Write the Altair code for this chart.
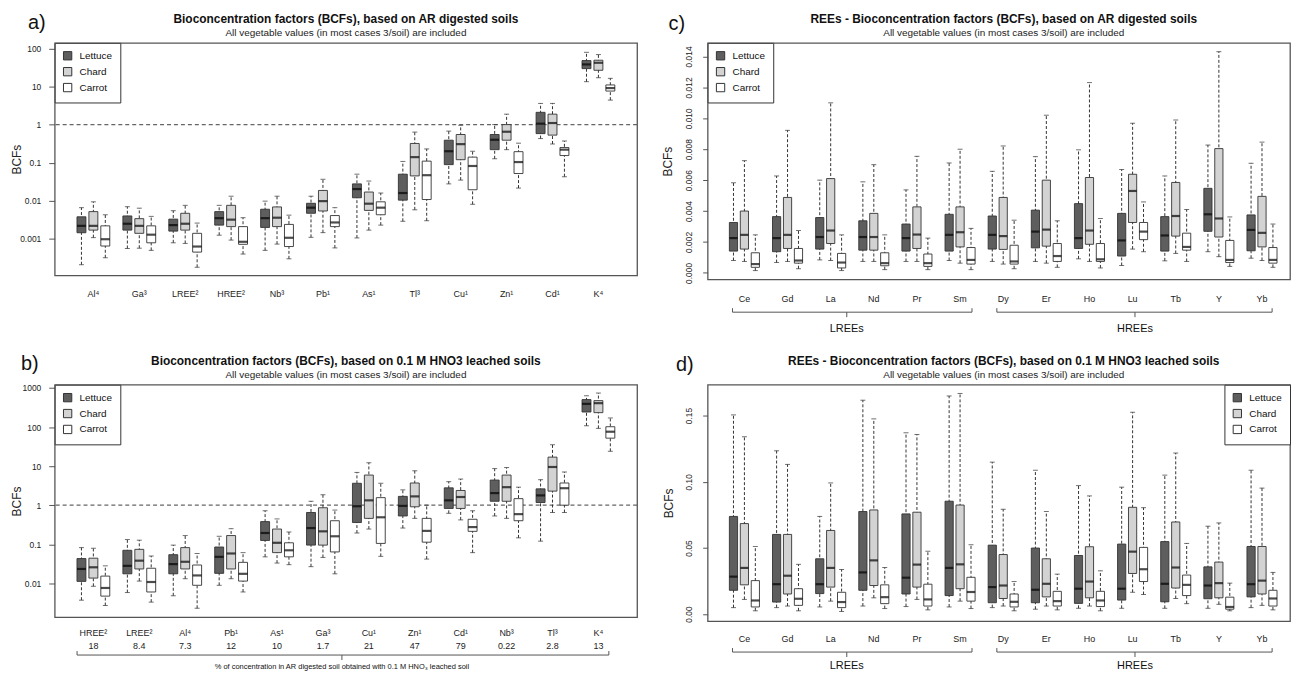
import altair as alt
import pandas as pd

SERIES = ["Lettuce", "Chard", "Carrot"]
FILLS = ["#5e5e5e", "#d3d3d3", "#ffffff"]
FONT = "Liberation Sans"

# ---------------- panel a: AR digested soils (log) ----------------
A_CATS = ["Al⁴", "Ga³", "LREE²", "HREE²", "Nb³", "Pb¹", "As¹", "Tl³", "Cu¹", "Zn¹", "Cd¹", "K⁴"]
# each entry: [lower whisker, Q1, median, Q3, upper whisker]
A_LETTUCE = [[0.00021, 0.00145, 0.0022, 0.0038, 0.0066], [0.00056, 0.0017, 0.0025, 0.0040, 0.0070],
             [0.00079, 0.0016, 0.0023, 0.0033, 0.0055], [0.00125, 0.0023, 0.0035, 0.0052, 0.0076],
             [0.0005, 0.0020, 0.0035, 0.0060, 0.0098], [0.0011, 0.0047, 0.0066, 0.0086, 0.0132],
             [0.00106, 0.012, 0.0203, 0.0278, 0.05], [0.0029, 0.0104, 0.016, 0.05, 0.108],
             [0.0278, 0.089, 0.2, 0.39, 0.675], [0.127, 0.22, 0.40, 0.55, 1.0],
             [0.43, 0.58, 1.06, 2.1, 3.6], [13.4, 29.5, 38, 48, 79]]
A_CHARD = [[0.00108, 0.0017, 0.0022, 0.0052, 0.0094], [0.00057, 0.0014, 0.0022, 0.0034, 0.0064],
           [0.00076, 0.0017, 0.0025, 0.0047, 0.0076], [0.00093, 0.0021, 0.0032, 0.0076, 0.0132],
           [0.00073, 0.0021, 0.0036, 0.0069, 0.0132], [0.00146, 0.0054, 0.0098, 0.0187, 0.0367],
           [0.0017, 0.0056, 0.0084, 0.017, 0.033], [0.0058, 0.045, 0.14, 0.32, 0.636],
           [0.035, 0.12, 0.307, 0.55, 0.96], [0.22, 0.39, 0.65, 1.0, 1.88],
           [0.31, 0.53, 1.1, 1.88, 3.6], [17, 26.7, 42, 49, 69]]
A_CARROT = [[0.00032, 0.00065, 0.00098, 0.0022, 0.0043], [0.0005, 0.00079, 0.00129, 0.0022, 0.0039],
            [0.00018, 0.00045, 0.00063, 0.0014, 0.0026], [0.0004, 0.00072, 0.00084, 0.0021, 0.0036],
            [0.0003, 0.00063, 0.00107, 0.0024, 0.0042], [0.00058, 0.0021, 0.0027, 0.0041, 0.0066],
            [0.0023, 0.0043, 0.0066, 0.0094, 0.016], [0.003, 0.0108, 0.047, 0.11, 0.23],
            [0.0081, 0.0195, 0.082, 0.14, 0.2], [0.0216, 0.052, 0.104, 0.195, 0.326],
            [0.043, 0.154, 0.22, 0.25, 0.37], [4.4, 7.6, 9.1, 11, 16.4]]

# ---------------- panel b: 0.1 M HNO3 leached soils (log) ----------------
B_CATS = ["HREE²", "LREE²", "Al⁴", "Pb¹", "As¹", "Ga³", "Cu¹", "Zn¹", "Cd¹", "Nb³", "Tl³", "K⁴"]
B_PCT = ["18", "8.4", "7.3", "12", "10", "1.7", "21", "47", "79", "0.22", "2.8", "13"]
B_LETTUCE = [[0.0037, 0.0112, 0.0233, 0.043, 0.082], [0.0058, 0.0175, 0.028, 0.07, 0.132],
             [0.0048, 0.0175, 0.031, 0.054, 0.095], [0.0089, 0.018, 0.0476, 0.085, 0.16],
             [0.0476, 0.125, 0.194, 0.38, 0.72], [0.0267, 0.095, 0.26, 0.65, 1.26],
             [0.194, 0.36, 0.94, 3.64, 6.9], [0.26, 0.53, 0.96, 1.68, 2.47],
             [0.62, 0.825, 1.33, 2.78, 4.0], [0.53, 1.26, 2.04, 4.4, 8.65],
             [0.12, 1.17, 1.78, 2.62, 4.5], [108, 243, 393, 505, 633]]
B_CHARD = [[0.0084, 0.0136, 0.0257, 0.044, 0.079], [0.0114, 0.0233, 0.038, 0.074, 0.127],
           [0.0131, 0.0233, 0.0356, 0.082, 0.167], [0.0131, 0.0233, 0.058, 0.167, 0.25],
           [0.033, 0.061, 0.109, 0.245, 0.445], [0.046, 0.095, 0.214, 0.86, 1.85],
           [0.245, 0.46, 1.33, 5.9, 12.2], [0.46, 0.91, 1.68, 3.7, 7.6],
           [0.42, 0.825, 1.62, 2.38, 4.67], [0.46, 1.26, 2.89, 5.9, 9.2],
           [0.65, 2.29, 9.5, 17, 35.3], [92.6, 234, 409, 475, 743]]
B_CARROT = [[0.0027, 0.0047, 0.0076, 0.0153, 0.028], [0.0033, 0.006, 0.0108, 0.0243, 0.05],
            [0.0023, 0.0089, 0.0159, 0.0294, 0.058], [0.006, 0.0114, 0.0175, 0.0344, 0.061],
            [0.03, 0.0476, 0.07, 0.109, 0.206], [0.0175, 0.0636, 0.16, 0.40, 0.75],
            [0.049, 0.105, 0.49, 1.56, 3.64], [0.0417, 0.113, 0.22, 0.46, 1.0],
            [0.061, 0.214, 0.275, 0.436, 0.72], [0.146, 0.40, 0.59, 1.47, 2.89],
            [0.65, 1.0, 2.72, 3.7, 7.1], [24, 52, 76, 102, 171]]

# ---------------- panel c: REEs, AR digested (linear) ----------------
REE_CATS = ["Ce", "Gd", "La", "Nd", "Pr", "Sm", "Dy", "Er", "Ho", "Lu", "Tb", "Y", "Yb"]
C_LETTUCE = [[0.0008, 0.00141, 0.00225, 0.00326, 0.00583], [0.00067, 0.00137, 0.00225, 0.00364, 0.00627],
             [0.00084, 0.00154, 0.00232, 0.00358, 0.006], [0.00074, 0.00147, 0.00232, 0.00337, 0.00589],
             [0.00074, 0.00141, 0.00225, 0.00316, 0.00537], [0.0008, 0.00141, 0.00246, 0.00379, 0.00711],
             [0.00074, 0.00154, 0.00246, 0.00368, 0.00657], [0.00074, 0.00162, 0.00267, 0.00406, 0.00752],
             [0.00091, 0.00158, 0.00225, 0.00448, 0.00796], [0.00048, 0.00109, 0.0021, 0.00385, 0.00669],
             [0.00078, 0.00141, 0.00242, 0.00364, 0.00627], [0.00137, 0.00269, 0.00379, 0.00547, 0.00827],
             [0.00095, 0.00143, 0.00278, 0.00375, 0.00709]]
C_CHARD = [[0.00074, 0.00154, 0.00246, 0.004, 0.00726], [0.00074, 0.00158, 0.00246, 0.00488, 0.00922],
           [0.0008, 0.0019, 0.00274, 0.0061, 0.011], [0.00074, 0.00147, 0.00232, 0.00385, 0.007],
           [0.00074, 0.00158, 0.00248, 0.00427, 0.00754], [0.00063, 0.00168, 0.00263, 0.00427, 0.008],
           [0.00057, 0.00152, 0.00238, 0.00488, 0.00821], [0.00063, 0.00173, 0.0028, 0.006, 0.0102],
           [0.00074, 0.00185, 0.00274, 0.00617, 0.01231], [0.00154, 0.00326, 0.0053, 0.00638, 0.00968],
           [0.00126, 0.00238, 0.00368, 0.00585, 0.00989], [0.00105, 0.00232, 0.00352, 0.00804, 0.01431],
           [0.0008, 0.00168, 0.00259, 0.00495, 0.00846]]
C_CARROT = [[0.00015, 0.00036, 0.00057, 0.0013, 0.00246], [0.00027, 0.00063, 0.0008, 0.00158, 0.00274],
            [0.00015, 0.00032, 0.00067, 0.00126, 0.00246], [0.00021, 0.00046, 0.00063, 0.0013, 0.00246],
            [0.00021, 0.00042, 0.00063, 0.00122, 0.00225], [0.00021, 0.00057, 0.00084, 0.00164, 0.00288],
            [0.00027, 0.00057, 0.00074, 0.00179, 0.00341], [0.00036, 0.00074, 0.00109, 0.0019, 0.00337],
            [0.00032, 0.00074, 0.00088, 0.0019, 0.00352], [0.00137, 0.00215, 0.00267, 0.00326, 0.00459],
            [0.00074, 0.00147, 0.00168, 0.00257, 0.0041], [0.00042, 0.00067, 0.00084, 0.0021, 0.00362],
            [0.00036, 0.00063, 0.00084, 0.00164, 0.00316]]

# ---------------- panel d: REEs, 0.1 M HNO3 leached (linear) ----------------
D_LETTUCE = [[0.0049, 0.018, 0.0283, 0.0738, 0.1505], [0.0049, 0.0091, 0.0226, 0.0602, 0.1234],
             [0.0054, 0.0155, 0.0226, 0.0418, 0.0738], [0.0061, 0.018, 0.0315, 0.0775, 0.1616],
             [0.0057, 0.0152, 0.0275, 0.0757, 0.137], [0.0054, 0.014, 0.0349, 0.0853, 0.1648],
             [0.0049, 0.0086, 0.0204, 0.0521, 0.1148], [0.0037, 0.0086, 0.0184, 0.0499, 0.1087],
             [0.0044, 0.0081, 0.0192, 0.0443, 0.0971], [0.0044, 0.0106, 0.0192, 0.0529, 0.0959],
             [0.0044, 0.0093, 0.0229, 0.0548, 0.105], [0.0044, 0.0116, 0.0216, 0.0357, 0.0664],
             [0.0049, 0.013, 0.0226, 0.0511, 0.1087]]
D_CHARD = [[0.0111, 0.0221, 0.0349, 0.0684, 0.134], [0.0061, 0.0152, 0.029, 0.0602, 0.1131],
           [0.0098, 0.0204, 0.0349, 0.0632, 0.0991], [0.0123, 0.0216, 0.0406, 0.0787, 0.1475],
           [0.0111, 0.0204, 0.0374, 0.077, 0.1357], [0.0098, 0.0192, 0.0376, 0.0824, 0.1667],
           [0.0061, 0.0118, 0.0216, 0.045, 0.0792], [0.0061, 0.013, 0.0229, 0.0418, 0.0775],
           [0.0061, 0.0123, 0.0246, 0.0509, 0.0893], [0.0165, 0.0307, 0.0472, 0.0807, 0.1525],
           [0.0118, 0.0197, 0.0352, 0.0696, 0.1217], [0.0074, 0.0123, 0.0234, 0.0393, 0.0689],
           [0.0066, 0.0152, 0.0253, 0.0511, 0.0952]]
D_CARROT = [[0.0025, 0.0054, 0.0103, 0.0253, 0.0511], [0.0025, 0.0066, 0.0116, 0.0192, 0.0376],
            [0.002, 0.0049, 0.0091, 0.0165, 0.0337], [0.0042, 0.0079, 0.0128, 0.0221, 0.0352],
            [0.0032, 0.0061, 0.0111, 0.0226, 0.0475], [0.0042, 0.0098, 0.0167, 0.0278, 0.0524],
            [0.0025, 0.0054, 0.0093, 0.0152, 0.0246], [0.0032, 0.0061, 0.0098, 0.0172, 0.0302],
            [0.0025, 0.0057, 0.0103, 0.0172, 0.0327], [0.0148, 0.0246, 0.0339, 0.0504, 0.0804],
            [0.0079, 0.014, 0.0221, 0.0295, 0.0534], [0.0025, 0.0037, 0.0054, 0.0128, 0.0234],
            [0.0032, 0.0061, 0.0118, 0.018, 0.0315]]

TITLE_AR = "Bioconcentration factors (BCFs), based on AR digested soils"
TITLE_HNO3 = "Bioconcentration factors (BCFs), based on 0.1 M HNO3 leached soils"
SUBTITLE = "All vegetable values (in most cases 3/soil) are included"
CAPTION_B = "% of concentration in AR digested soil obtained with 0.1 M HNO₃ leached soil"

W = 586
LINE = "#333333"


def make_df(cats, lettuce, chard, carrot):
    rows = []
    for s, vals in zip(SERIES, [lettuce, chard, carrot]):
        for c, v in zip(cats, vals):
            rows.append(dict(cat=c, series=s, lo=v[0], q1=v[1], med=v[2], q3=v[3], hi=v[4]))
    return pd.DataFrame(rows)


def one():
    return pd.DataFrame({"k": [0]})


def rule_px(x1, x2, y1, y2):
    return alt.Chart(one()).mark_rule(color="#555555", strokeWidth=1).encode(
        x=alt.value(x1), x2=alt.value(x2), y=alt.value(y1), y2=alt.value(y2))


def brace(x1, x2, xc, yb, up=4, down=5):
    return [rule_px(x1, x2, yb, yb), rule_px(x1, x1, yb - up, yb),
            rule_px(x2, x2, yb - up, yb), rule_px(xc, xc, yb, yb + down)]


def text_px(txt, x, y, size, weight="normal", color="#111111", **kw):
    return alt.Chart(pd.DataFrame({"t": [txt]})).mark_text(
        fontSize=size, font=FONT, color=color, fontWeight=weight, **kw).encode(
        x=alt.value(x), y=alt.value(y), text="t:N")


def headings(title, cx):
    return [text_px(title, cx, -24, 12, weight="bold", align="center", baseline="middle"),
            text_px(SUBTITLE, cx, -10, 10, color="#222222", align="center", baseline="middle")]


def panel(cats, L, C, R, H, ytype, ydom, yvals, yfmt, xsc, lpad, letter, lxy,
          rotate, legend_orient, ytitle_x, hline=False):
    df = make_df(cats, L, C, R)
    pi, po, al, bw = xsc
    xenc = alt.X("cat:N", sort=cats,
                 scale=alt.Scale(domain=cats, paddingInner=pi, paddingOuter=po, align=al),
                 axis=alt.Axis(title=None, ticks=False, domain=False, labelAngle=0,
                               labelPadding=lpad, labelFontSize=9, labelColor="#222222",
                               labelFont=FONT, labelBaseline="top"))
    xoff = alt.XOffset("series:N", sort=SERIES,
                       scale=alt.Scale(domain=SERIES, paddingInner=0.25, paddingOuter=0))
    ysc = alt.Scale(type=ytype, domain=ydom, nice=False, zero=False)
    axkw = dict(title="BCFs", values=yvals, format=yfmt, domain=False, grid=False,
                tickColor="#555555", labelColor="#222222", labelFont=FONT, labelFontSize=8.5,
                titleFont=FONT, titleFontSize=12, titleFontWeight="normal", titleColor="#222222",
                titleAngle=-90, titleX=ytitle_x, titleY=H / 2, titleAlign="center",
                titleBaseline="middle")
    if rotate:
        yax = alt.Axis(labelAngle=-90, labelAlign="center", labelBaseline="bottom",
                       labelPadding=9, tickSize=5, **axkw)
    else:
        yax = alt.Axis(labelPadding=8, tickSize=6, **axkw)

    def Y(f):
        return alt.Y(f"{f}:Q", scale=ysc, axis=yax)

    base = alt.Chart(df)
    layers = []
    if hline:
        layers.append(alt.Chart(pd.DataFrame({"v": [1.0]})).mark_rule(
            color="#666666", strokeDash=[4, 3], strokeWidth=1.2).encode(y=Y("v")))
    layers.append(base.mark_rule(strokeDash=[3, 2], color=LINE, strokeWidth=1).encode(
        x=xenc, xOffset=xoff, y=Y("lo"), y2="hi:Q"))
    layers.append(base.mark_tick(size=5, thickness=1, color=LINE).encode(
        x=xenc, xOffset=xoff, y=Y("lo")))
    layers.append(base.mark_tick(size=5, thickness=1, color=LINE).encode(
        x=xenc, xOffset=xoff, y=Y("hi")))
    layers.append(base.mark_bar(stroke=LINE, strokeWidth=0.9).encode(
        x=xenc, xOffset=xoff, y=Y("q1"), y2="q3:Q",
        fill=alt.Fill("series:N", sort=SERIES,
                      scale=alt.Scale(domain=SERIES, range=FILLS),
                      legend=alt.Legend(orient=legend_orient, title=None, offset=0, padding=8,
                                        strokeColor=LINE, fillColor="white", symbolType="square",
                                        symbolSize=70, symbolStrokeColor=LINE,
                                        symbolStrokeWidth=1, labelFontSize=10, labelFont=FONT,
                                        labelColor="#111111", labelOffset=7, rowPadding=2,
                                        cornerRadius=0))))
    layers.append(base.mark_tick(size=bw, thickness=2.2, color="black").encode(
        x=xenc, xOffset=xoff, y=Y("med")))
    layers.append(text_px(letter, lxy[0], lxy[1], 20, align="center", baseline="middle"))
    return layers, xenc


XS_AB = (0.2857, 0.485, 0.5, 9)
XS_CD = (0.303, 0.4025, 0.626, 8.25)

H_A, H_B, H_C, H_D = 234, 234, 238, 238

# panel a
la, _ = panel(A_CATS, A_LETTUCE, A_CHARD, A_CARROT, H_A, "log", [0.00011, 140],
              [0.001, 0.01, 0.1, 1, 10, 100], "~g", XS_AB, 14, "a)", (-18, -20),
              False, "top-left", -38, hline=True)
la += headings(TITLE_AR, 293)
chart_a = alt.layer(*la).properties(width=W, height=H_A)

# panel b
lb, xb = panel(B_CATS, B_LETTUCE, B_CHARD, B_CARROT, H_B, "log", [0.00135, 1213],
               [0.01, 0.1, 1, 10, 100, 1000], "~g", XS_AB, 11, "b)", (-25, -21),
               False, "top-left", -38, hline=True)
pct_df = pd.DataFrame({"cat": B_CATS, "pct": B_PCT})
lb.append(alt.Chart(pct_df).mark_text(fontSize=9, font=FONT, color="#222222",
                                      baseline="middle").encode(
    x=xb, y=alt.value(H_B + 29), text="pct:N"))
lb += brace(22.5, 557.6, 289, H_B + 38)
lb.append(text_px(CAPTION_B, 289, H_B + 50, 7.5, align="center", baseline="middle"))
lb += headings(TITLE_HNO3, 293)
chart_b = alt.layer(*lb).properties(width=W, height=H_B)

# panel c
lc, _ = panel(REE_CATS, C_LETTUCE, C_CHARD, C_CARROT, H_C, "linear", [-0.00042, 0.01488],
              [0, 0.002, 0.004, 0.006, 0.008, 0.010, 0.012, 0.014], ".3f", XS_CD, 15,
              "c)", (-31, -19), True, "top-left", -40)
lc += brace(25, 266, 140, H_C + 33)
lc += brace(291, 568, 430, H_C + 33)
lc.append(text_px("LREEs", 140, H_C + 50, 11, align="center", baseline="middle"))
lc.append(text_px("HREEs", 430, H_C + 50, 11, align="center", baseline="middle"))
lc += headings("REEs - " + TITLE_AR, 298)
chart_c = alt.layer(*lc).properties(width=W, height=H_C)

# panel d
ld, _ = panel(REE_CATS, D_LETTUCE, D_CHARD, D_CARROT, H_D, "linear", [-0.0054, 0.1733],
              [0, 0.05, 0.10, 0.15], ".2f", XS_CD, 13,
              "d)", (-23, -20), True, "top-right", -39)
ld += brace(25, 266, 140, H_D + 31)
ld += brace(291, 568, 430, H_D + 31)
ld.append(text_px("LREEs", 140, H_D + 45, 11, align="center", baseline="middle"))
ld.append(text_px("HREEs", 430, H_D + 45, 11, align="center", baseline="middle"))
ld += headings("REEs - " + TITLE_HNO3, 298)
chart_d = alt.layer(*ld).properties(width=W, height=H_D)

chart = alt.concat(chart_a, chart_c, chart_b, chart_d, columns=2,
                   spacing={"row": 106, "column": 71}, bounds="flush").resolve_scale(
    fill="independent", x="independent", y="independent", xOffset="independent").properties(
    padding={"left": 2, "top": 2, "right": 0, "bottom": 0}, background="white").configure(
    font=FONT).configure_view(stroke="#555555", strokeWidth=1.3)

chart.save("out.html", embed_options={"renderer": "svg", "actions": False})
